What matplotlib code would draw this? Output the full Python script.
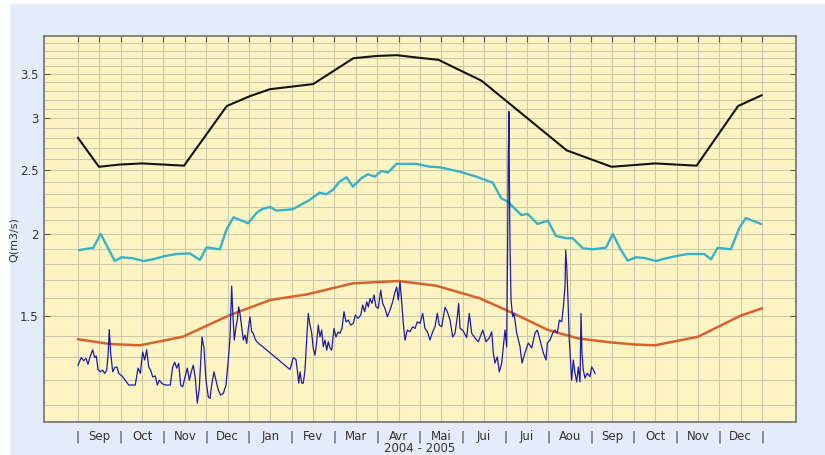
import matplotlib
matplotlib.use("Agg")
import matplotlib.pyplot as plt
from matplotlib.patches import Rectangle
from matplotlib.ticker import FixedLocator, NullFormatter

# x is measured in months from 1 Sep 2004 (0) to 31 Dec 2005 (16)
month_labels = ["Sep", "Oct", "Nov", "Dec", "Jan", "Fev", "Mar", "Avr",
                "Mai", "Jui", "Jui", "Aou", "Sep", "Oct", "Nov", "Dec"]

# upper envelope (black)
max_x = [0.0, 0.49, 0.98, 1.50, 1.99, 2.48, 3.48, 4.02, 4.49, 5.50, 6.44, 6.99,
         7.46, 7.92, 8.43, 9.44, 11.43, 12.48, 13.50, 14.47, 15.44, 15.99]
max_q = [2.80, 2.53, 2.55, 2.56, 2.55, 2.54, 3.13, 3.24, 3.32, 3.38, 3.70, 3.73,
         3.74, 3.71, 3.68, 3.42, 2.68, 2.53, 2.56, 2.54, 3.13, 3.25]

# cyan curve
high_x = [0.03, 0.36, 0.53, 0.86, 1.02, 1.29, 1.53, 1.76, 2.03, 2.31, 2.62, 2.85,
          3.01, 3.32, 3.47, 3.64, 3.98, 4.18, 4.30, 4.49, 4.64, 5.02, 5.42, 5.65,
          5.81, 5.96, 6.12, 6.28, 6.43, 6.63, 6.78, 6.94, 7.10, 7.25, 7.45, 7.91,
          8.22, 8.46, 8.93, 9.32, 9.70, 9.90, 10.05, 10.37, 10.52, 10.75, 10.99,
          11.18, 11.42, 11.57, 11.81, 12.04, 12.35, 12.51, 12.70, 12.86, 13.05,
          13.25, 13.52, 13.75, 14.03, 14.26, 14.65, 14.81, 14.96, 15.27, 15.47,
          15.62, 15.97]
high_q = [1.890, 1.905, 2.000, 1.819, 1.843, 1.836, 1.819, 1.830, 1.851, 1.864,
          1.868, 1.825, 1.908, 1.895, 2.028, 2.120, 2.076, 2.154, 2.180, 2.198,
          2.170, 2.180, 2.253, 2.311, 2.298, 2.333, 2.402, 2.439, 2.360, 2.431,
          2.465, 2.444, 2.494, 2.479, 2.556, 2.556, 2.531, 2.526, 2.487, 2.444,
          2.393, 2.266, 2.239, 2.137, 2.145, 2.071, 2.095, 1.986, 1.970, 1.970,
          1.902, 1.895, 1.906, 2.000, 1.890, 1.821, 1.843, 1.838, 1.819, 1.836,
          1.853, 1.864, 1.864, 1.830, 1.905, 1.895, 2.042, 2.115, 2.071]

# orange curve
mean_x = [0.0, 0.75, 1.45, 2.45, 3.55, 4.50, 5.35, 6.43, 7.50, 8.38, 9.40,
          10.10, 11.00, 11.70, 12.45, 13.00, 13.50, 14.50, 15.50, 16.0]
mean_q = [1.383, 1.360, 1.354, 1.395, 1.505, 1.587, 1.618, 1.682, 1.696, 1.668,
          1.596, 1.523, 1.428, 1.387, 1.368, 1.358, 1.354, 1.395, 1.502, 1.541]

# observed daily flow 2004-2005 (dark blue)
obs_x = [0.000, 0.077, 0.133, 0.187, 0.234, 0.288, 0.344, 0.391, 0.428, 0.468,
         0.522, 0.578, 0.625, 0.671, 0.702, 0.732, 0.765, 0.812, 0.858, 0.912,
         0.952, 1.029, 1.106, 1.186, 1.340, 1.404, 1.457, 1.513, 1.560, 1.607,
         1.654, 1.701, 1.747, 1.808, 1.855, 1.902, 1.965, 2.042, 2.159, 2.215,
         2.262, 2.309, 2.356, 2.402, 2.449, 2.496, 2.557, 2.604, 2.650, 2.697,
         2.744, 2.791, 2.837, 2.901, 2.947, 2.994, 3.048, 3.088, 3.127, 3.181,
         3.228, 3.282, 3.338, 3.399, 3.462, 3.516, 3.556, 3.595, 3.619, 3.656,
         3.696, 3.726, 3.759, 3.789, 3.829, 3.867, 3.906, 3.946, 3.984, 4.023,
         4.063, 4.101, 4.140, 4.180, 4.959, 5.036, 5.099, 5.130, 5.163, 5.193,
         5.233, 5.270, 5.310, 5.350, 5.387, 5.427, 5.467, 5.504, 5.544, 5.584,
         5.621, 5.661, 5.700, 5.738, 5.778, 5.818, 5.855, 5.895, 5.934, 5.988,
         6.035, 6.082, 6.129, 6.175, 6.222, 6.269, 6.323, 6.379, 6.440, 6.487,
         6.550, 6.613, 6.660, 6.706, 6.753, 6.791, 6.830, 6.877, 6.924, 6.971,
         7.025, 7.081, 7.127, 7.181, 7.235, 7.298, 7.361, 7.415, 7.455, 7.492,
         7.532, 7.572, 7.609, 7.649, 7.703, 7.766, 7.829, 7.883, 7.937, 8.000,
         8.063, 8.117, 8.171, 8.234, 8.297, 8.351, 8.405, 8.451, 8.508, 8.585,
         8.639, 8.702, 8.765, 8.819, 8.872, 8.905, 8.936, 8.999, 9.092, 9.153,
         9.209, 9.287, 9.364, 9.467, 9.544, 9.621, 9.677, 9.715, 9.754, 9.808,
         9.855, 9.911, 9.949, 9.988, 10.028, 10.051, 10.065, 10.082, 10.089,
         10.105, 10.129, 10.168, 10.199, 10.229, 10.262, 10.339, 10.386, 10.456,
         10.533, 10.613, 10.690, 10.744, 10.807, 10.884, 10.947, 10.978, 11.041,
         11.104, 11.158, 11.212, 11.259, 11.315, 11.353, 11.392, 11.408, 11.432,
         11.462, 11.492, 11.525, 11.548, 11.586, 11.626, 11.665, 11.703, 11.743,
         11.766, 11.789, 11.820, 11.860, 11.913, 11.977, 12.016, 12.054, 12.094]
obs_q = [1.263, 1.297, 1.283, 1.293, 1.267, 1.304, 1.333, 1.297, 1.304, 1.244,
         1.234, 1.241, 1.227, 1.241, 1.304, 1.431, 1.316, 1.234, 1.252, 1.255,
         1.227, 1.216, 1.198, 1.178, 1.178, 1.250, 1.227, 1.323, 1.286, 1.333,
         1.255, 1.241, 1.212, 1.216, 1.178, 1.198, 1.184, 1.178, 1.178, 1.255,
         1.276, 1.250, 1.271, 1.178, 1.171, 1.206, 1.250, 1.198, 1.234, 1.263,
         1.206, 1.106, 1.163, 1.394, 1.341, 1.198, 1.130, 1.124, 1.178, 1.234,
         1.198, 1.157, 1.137, 1.144, 1.178, 1.286, 1.394, 1.666, 1.523, 1.379,
         1.445, 1.479, 1.549, 1.514, 1.445, 1.379, 1.403, 1.363, 1.436, 1.496,
         1.420, 1.412, 1.386, 1.371, 1.244, 1.297, 1.288, 1.241, 1.186, 1.234,
         1.186, 1.186, 1.241, 1.387, 1.514, 1.453, 1.412, 1.339, 1.308, 1.371,
         1.453, 1.394, 1.428, 1.348, 1.379, 1.331, 1.371, 1.341, 1.331, 1.436,
         1.394, 1.418, 1.412, 1.436, 1.523, 1.470, 1.479, 1.453, 1.462, 1.505,
         1.488, 1.505, 1.559, 1.523, 1.577, 1.549, 1.595, 1.568, 1.615, 1.549,
         1.541, 1.643, 1.568, 1.541, 1.496, 1.532, 1.577, 1.632, 1.660, 1.587,
         1.690, 1.577, 1.462, 1.379, 1.428, 1.420, 1.445, 1.436, 1.470, 1.462,
         1.514, 1.436, 1.420, 1.379, 1.420, 1.445, 1.514, 1.453, 1.445, 1.546,
         1.523, 1.479, 1.394, 1.412, 1.496, 1.568, 1.436, 1.428, 1.391, 1.514,
         1.412, 1.389, 1.371, 1.428, 1.371, 1.389, 1.420, 1.319, 1.272, 1.300,
         1.234, 1.272, 1.346, 1.428, 1.346, 1.958, 2.620, 3.070, 2.500,
         1.935, 1.587, 1.496, 1.514, 1.464, 1.413, 1.348, 1.272, 1.319,
         1.365, 1.341, 1.413, 1.428, 1.379, 1.319, 1.286, 1.365, 1.379,
         1.413, 1.428, 1.413, 1.479, 1.470, 1.549, 1.664, 1.890, 1.783,
         1.587, 1.379, 1.272, 1.198, 1.286, 1.228, 1.191, 1.255, 1.191,
         1.514, 1.317, 1.241, 1.207, 1.228, 1.213, 1.255, 1.244, 1.226]

y_major = [1.5, 2.0, 2.5, 3.0, 3.5]
y_major_labels = ["1.5", "2", "2.5", "3", "3.5"]

W, H = 825, 455
fig = plt.figure(figsize=(W / 100, H / 100), dpi=100, facecolor="white")
fig.patches.append(Rectangle((10 / W, 0), 1 - 10 / W, 1 - 4 / H,
                             transform=fig.transFigure, facecolor="#e4ecf9",
                             edgecolor="none", zorder=-10))

ax = fig.add_axes([44 / W, 1 - 422 / H, (796 - 44) / W, (422 - 36) / H])
ax.set_zorder(1)
ax.set_facecolor("#fcf5c3")
ax.set_axisbelow(True)

ax.plot(max_x, max_q, color="#141414", lw=1.5, zorder=3)
ax.plot(high_x, high_q, color="#38b2c8", lw=1.7, zorder=3)
ax.plot(mean_x, mean_q, color="#d8622c", lw=1.8, zorder=3)
ax.plot(obs_x, obs_q, color="#1c1ca6", lw=0.9, zorder=4)

ax.set_yscale("log")
ax.set_xlim(-0.795, 16.795)
ax.set_ylim(1.035, 4.0)

# y ticks + dense horizontal grid every 0.1
ax.yaxis.set_major_locator(FixedLocator(y_major))
ax.set_yticklabels(y_major_labels)
ax.yaxis.set_minor_locator(FixedLocator([round(1.1 + 0.1 * i, 1) for i in range(29)]))
ax.yaxis.set_minor_formatter(NullFormatter())
ax.tick_params(axis="y", which="major", left=True, right=True, direction="in",
               length=4, width=0.8, color="#555555", labelsize=8.5,
               labelcolor="#333333", pad=4)
ax.tick_params(axis="y", which="minor", length=0)

# x ticks: "|" at month boundaries, month names in between
xt = [i * 0.5 for i in range(33)]
xl = []
for i in range(33):
    xl.append("|" if i % 2 == 0 else month_labels[i // 2])
ax.set_xticks(xt)
ax.set_xticklabels(xl)
ax.tick_params(axis="x", which="major", top=True, bottom=False, direction="in",
               length=4, width=0.8, color="#555555", labelsize=8.5,
               labelcolor="#333333", pad=6)

ax.grid(True, which="major", axis="x", color="#cdc7ab", lw=0.8)
ax.grid(True, which="both", axis="y", color="#cdc7ab", lw=0.8)

for side in ax.spines.values():
    side.set_color("#7a7a7a")
    side.set_linewidth(1.3)

fig.text(14 / W, 1 - 240 / H, "Q(m3/s)", rotation=90, ha="center", va="center",
         fontsize=8, color="#333333")
fig.text(420 / W, 1 - 449 / H, "2004 - 2005", ha="center", va="center",
         fontsize=8.5, color="#333333")

fig.savefig("out.png", dpi=100, facecolor=fig.get_facecolor())
